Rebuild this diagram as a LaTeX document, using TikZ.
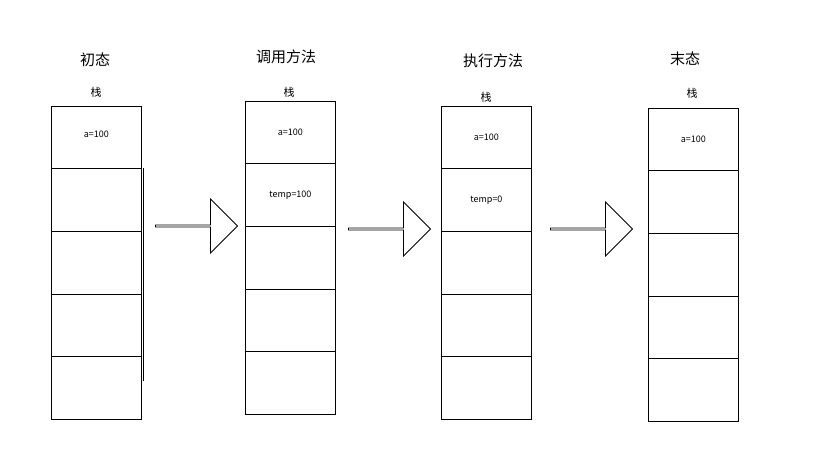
\documentclass[tikz,border=0pt]{standalone}
\usepackage{fontspec}
\setmainfont{Noto Sans CJK SC}
\usetikzlibrary{shapes.arrows}
\tikzset{cell/.style={draw,thick,minimum width=90pt,minimum height=62.5pt,inner sep=0pt,font=\fontsize{9}{10}\selectfont},
         title/.style={font=\fontsize{15}{16}\selectfont},
         stk/.style={font=\fontsize{11}{12}\selectfont},
         bigarrow/.style={draw,thick,single arrow,single arrow head extend=10pt,minimum height=82pt,minimum width=54pt,inner sep=0pt,fill=white}}
\begin{document}
\begin{tikzpicture}[x=1pt,y=-1pt]
  \useasboundingbox (0,0) rectangle (840,449);
  % stacks: name/left/top/title x/title y/stack label x/y
  \foreach \n/\x/\t/\tx/\ty/\sx/\sy/\ti in {s1/51/106/95/60/96/92/初态,s2/245/101/286/57/289/92/调用方法,s3/441/106/493/61/486/97/执行方法,s4/648/108/685/59/692/93/末态}{
    \node[title] (\n t) at (\tx,\ty) {\ti};
    \node[stk] (\n l) at (\sx,\sy) {栈};
    \foreach \i in {0,...,4}
      \node[cell,anchor=north west] (\n c\i) at (\x,\t+\i*62.5) {};
  }
  \node[font=\fontsize{9}{10}\selectfont] at ([yshift=-28pt]s1c0.north) {a=100};
  \node[font=\fontsize{9}{10}\selectfont] at (s2c0) {a=100};
  \node[font=\fontsize{9}{10}\selectfont] at (s2c1) {temp=100};
  \node[font=\fontsize{9}{10}\selectfont] at (s3c0) {a=100};
  \node[font=\fontsize{9}{10}\selectfont] at (s3c1) {temp=0};
  \node[font=\fontsize{9}{10}\selectfont] at (s4c0) {a=100};
  \draw[thick] ([xshift=1.5pt]s1c1.north east) -- ([xshift=1.5pt,yshift=-25pt]s1c4.north east);
  % arrows
  \node[bigarrow] (a1) at (196,226) {};
  \node[bigarrow] (a2) at (389,229) {};
  \node[bigarrow] (a3) at (591,229) {};
\end{tikzpicture}
\end{document}
